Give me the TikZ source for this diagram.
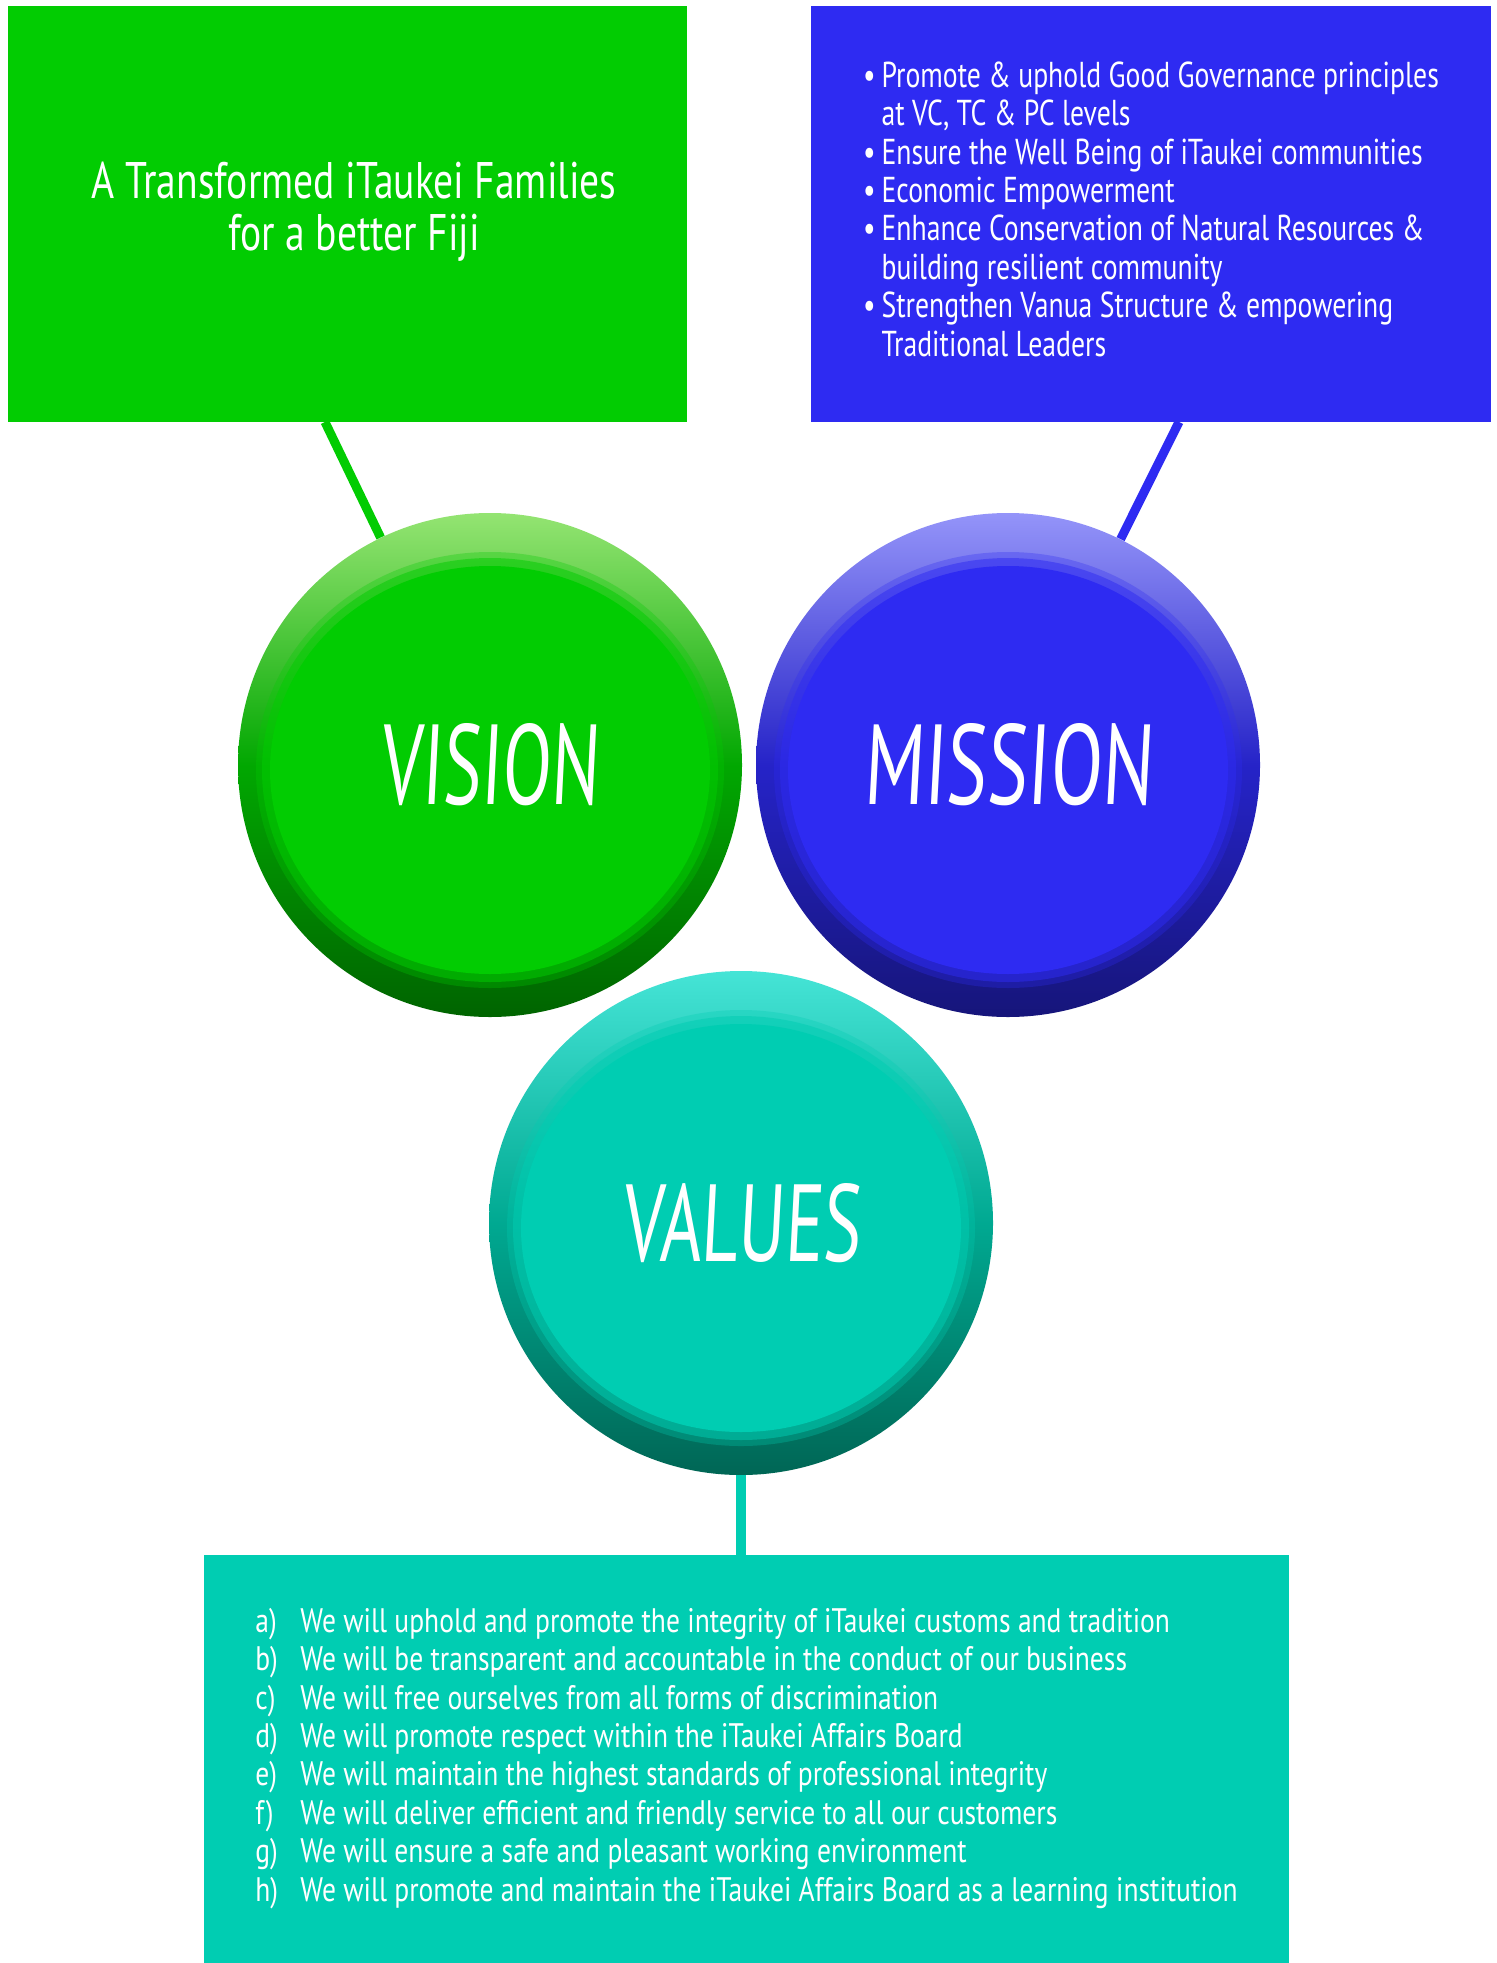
\documentclass[tikz,border=0pt]{standalone}
\usepackage{fontspec}
\usepackage{graphicx}
\setmainfont{PT Sans}
\newfontfamily\boxfont[FakeStretch=0.77]{PT Sans}
\newfontfamily\valfont[FakeStretch=0.81]{PT Sans}
\newfontfamily\titlefont[FakeSlant=0.08]{PT Sans}
\definecolor{gmain}{HTML}{02CC02}
\definecolor{gdark}{HTML}{006400}
\definecolor{glight}{HTML}{94E472}
\definecolor{bmain}{HTML}{2E2BF2}
\definecolor{bdark}{HTML}{16157A}
\definecolor{blight}{HTML}{9494F9}
\definecolor{tmain}{HTML}{00CDB2}
\definecolor{tdark}{HTML}{006655}
\definecolor{tlight}{HTML}{45E4D6}
\begin{document}
\begin{tikzpicture}[x=0.5pt,y=-0.5pt,
  ball/.style n args={4}{circle, inner sep=0pt, minimum size=252pt, text=white,
    top color=#1, bottom color=#3, middle color=#4,
    path picture={
      \fill[#2,opacity=0.3] ([yshift=-2.5pt]path picture bounding box.center) ellipse [x radius=117pt, y radius=109pt];
      \fill[#2,opacity=0.5] ([yshift=-2.5pt]path picture bounding box.center) ellipse [x radius=114pt, y radius=106pt];
      \fill[#2] ([yshift=-2.5pt]path picture bounding box.center) ellipse [x radius=110pt, y radius=102pt];
    }},
  panel/.style={rectangle, inner sep=0pt, text=white},
  link/.style={line width=4.5pt}
]
\useasboundingbox[fill=white] (0,0) rectangle (1497,1963);

% boxes
\node[panel, fill=gmain, minimum width=339.75pt, minimum height=208pt,
      font=\boxfont\fontsize{25.7}{25.5}\selectfont] (vbox) at (347.25,214)
  {\hspace*{7pt}\raisebox{1.5pt}{\begin{tabular}{@{}c@{}}A Transformed iTaukei Families\\for a better Fiji\end{tabular}}};

\node[panel, fill=bmain, minimum width=340pt, minimum height=208pt,
      font=\boxfont\fontsize{18}{19.2}\selectfont] (mbox) at (1151,214)
  {\begin{tabular}{@{}l@{\hspace{3pt}}l@{}}
   \textbullet & Promote \& uphold Good Governance principles\\
               & at VC, TC \& PC levels\\
   \textbullet & Ensure the Well Being of iTaukei communities\\
   \textbullet & Economic Empowerment\\
   \textbullet & Enhance Conservation of Natural Resources \&\\
               & building resilient community\\
   \textbullet & Strengthen Vanua Structure \& empowering\\
               & Traditional Leaders
   \end{tabular}};

\node[panel, fill=tmain, minimum width=542.5pt, minimum height=204pt,
      font=\valfont\fontsize{17}{19.2}\selectfont] (valbox) at (746.5,1759)
  {\begin{tabular}{@{}p{22.5pt}@{}l@{}}
   a) & We will uphold and promote the integrity of iTaukei customs and tradition\\
   b) & We will be transparent and accountable in the conduct of our business\\
   c) & We will free ourselves from all forms of discrimination\\
   d) & We will promote respect within the iTaukei Affairs Board\\
   e) & We will maintain the highest standards of professional integrity\\
   f) & We will deliver efficient and friendly service to all our customers\\
   g) & We will ensure a safe and pleasant working environment\\
   h) & We will promote and maintain the iTaukei Affairs Board as a learning institution
   \end{tabular}};

% circles
\node[ball={glight}{gmain}{gdark}{gmain!65!gdark}] (vision) at (490,765)
  {\resizebox{109pt}{40.5pt}{\titlefont VISION}};
\node[ball={blight}{bmain}{bdark}{bmain!65!bdark}] (mission) at (1008,765)
  {\resizebox{144.5pt}{40.5pt}{\titlefont MISSION}};
\node[ball={tlight}{tmain}{tdark}{tmain!65!tdark}] (values) at (741,1223)
  {\resizebox{119pt}{39pt}{\titlefont VALUES}};

% connectors
\coordinate (vlink) at (325,422);
\coordinate (mlink) at (1179,422);
\draw[link, gmain] (vlink) -- (vision);
\draw[link, bmain] (mlink) -- (mission);
\draw[link, tmain, line width=5pt] (values.south) -- (values.south |- valbox.north);
\end{tikzpicture}
\end{document}
